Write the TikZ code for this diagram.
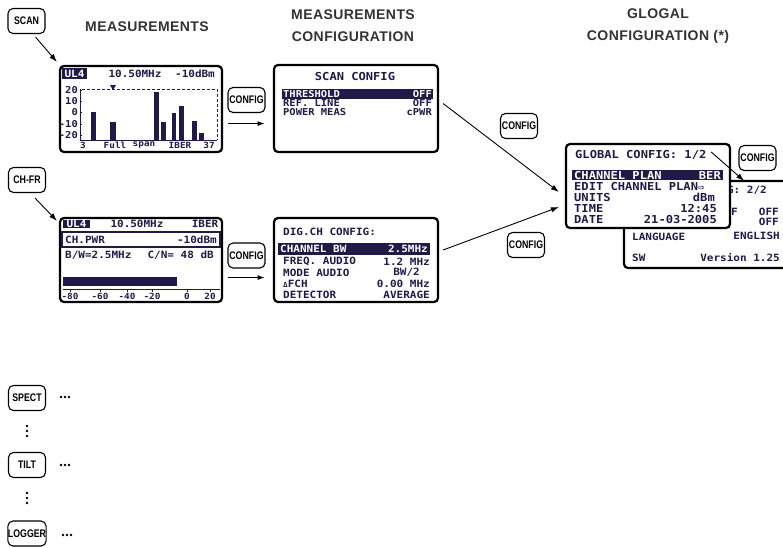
\documentclass[tikz,border=0pt]{standalone}
\usepackage{fontspec}
\setmainfont{Liberation Sans}
\newfontfamily\lcdfont{DejaVu Sans Mono}[FakeStretch=1.1]
\newfontfamily\keyfont{Liberation Sans}[FakeStretch=0.8]
\newfontfamily\symbfont{DejaVu Sans}
\usetikzlibrary{arrows.meta,calc}
\definecolor{lcd}{rgb}{0.13,0.10,0.28}
\definecolor{ink}{rgb}{0.2,0.2,0.2}

\begin{document}
\begin{tikzpicture}[
    x=1pt, y=-1pt,
    btn/.style={draw, rounded corners=5pt, line width=1.1pt, minimum width=37pt, minimum height=25pt, inner sep=0pt, font=\keyfont\bfseries\fontsize{11}{11}\selectfont},
    screen/.style={draw, fill=white, rounded corners=4pt, line width=2.2pt, inner sep=0pt},
    lcdtxt/.style={text=lcd, inner sep=0pt, font=\lcdfont\bfseries\fontsize{10}{10}\selectfont},
    lcdrow/.style={lcdtxt, font=\lcdfont\bfseries\fontsize{9.5}{9.5}\selectfont},
    lcdsm/.style={lcdtxt, font=\lcdfont\bfseries\fontsize{8.5}{9}\selectfont},
    lcdaxis/.style={lcdtxt, font=\lcdfont\bfseries\fontsize{9.5}{9.5}\selectfont},
    lcdbig/.style={lcdtxt, font=\lcdfont\bfseries\fontsize{11}{11}\selectfont},
    invtxt/.style={text=white},
    title/.style={text=ink, align=center, font=\bfseries\fontsize{14}{22}\selectfont\addfontfeature{LetterSpace=3}},
    arr/.style={line width=0.9pt, -{Latex[length=8pt,width=5.5pt]}},
    lcdline/.style={draw=lcd, line width=0.9pt},
    dot/.style={fill=black}
    ]
    \useasboundingbox (0,0) rectangle (783,547);

    % titles
    \node[title] (tmeas) at (147,27) {MEASUREMENTS};
    \node[title] (tconf) at (353,26) {MEASUREMENTS\\CONFIGURATION};
    \node[title] (tglob) at (658,26) {GLOGAL\\CONFIGURATION (*)};

    % keys
    \node[btn] (scan) at (26.5,21) {SCAN};
    \node[btn] (chfr) at (27,180) {CH-FR};
    \node[btn] (spect) at (27,398) {SPECT};
    \node[btn] (tilt) at (27,465) {TILT};
    \node[btn] (logger) at (27,533.5) {LOGGER};
    \node[btn] (cfga) at (246.5,100) {CONFIG};
    \node[btn] (cfgb) at (246.5,255.5) {CONFIG};
    \node[btn] (cfgc) at (519,126) {CONFIG};
    \node[btn] (cfgd) at (526,245) {CONFIG};
    \node[btn] (cfge) at (757.5,158) {CONFIG};

    % screens
    \node[screen, minimum width=162pt, minimum height=86pt] (scra) at (141,109) {};
    \node[screen, minimum width=164pt, minimum height=87pt] (scrb) at (356,108.5) {};
    \node[screen, minimum width=162pt, minimum height=84pt] (scrc) at (141,260) {};
    \node[screen, minimum width=164pt, minimum height=84pt] (scrd) at (356,260) {};

    % scan screen
    \fill[lcd] (62,68) rectangle (87,79);
    \node[lcdtxt, invtxt] (sa1) at (74.5,73.5) {UL4};
    \node[lcdtxt] (sa2) at (135,74) {10.50MHz};
    \node[lcdtxt] (sa3) at (195,74) {-10dBm};
    \foreach \t/\y [count=\i] in {20/90,10/101,0/112,-10/124,-20/135}{
        \node[lcdaxis, anchor=east] (say\i) at (78,\y) {\t};
        \draw[lcdline] (80,\y) -- (82,\y);
    }
    \draw[lcdline] (80,89) -- (80,140) -- (217,140);
    \draw[lcdline, dash pattern=on 3pt off 2pt] (82,89) -- (217,89) -- (217,140);
    \fill[lcd] (110,85) -- (116,85) -- (113,90) -- cycle;
    \foreach \xa/\xb/\yt in {91/96/112,110/116/122,154/159/92,161/166/122,172/176/113,179/184/106,192/197/121,199/204/133}
        \fill[lcd] (\xa,\yt) rectangle (\xb,140);
    \foreach \t/\x [count=\i] in {3/83,Full/115,span/144,IBER/180,37/209}
        \node[lcdsm] (sab\i) at (\x,145) {\t};

    % scan config screen
    \node[lcdbig] (sb1) at (355,76) {SCAN CONFIG};
    \fill[lcd] (282,89) rectangle (433,99);
    \node[lcdrow, invtxt, anchor=west] (sb2) at (283,94) {THRESHOLD};
    \node[lcdrow, invtxt, anchor=east] (sb3) at (432,94) {OFF};
    \node[lcdrow, anchor=west] (sb4) at (283,103) {REF. LINE};
    \node[lcdrow, anchor=east] (sb5) at (432,103) {OFF};
    \node[lcdrow, anchor=west] (sb6) at (283,112) {POWER MEAS};
    \node[lcdrow, anchor=east] (sb7) at (432,112) {cPWR};

    % ch-fr screen
    \fill[lcd] (63,220) rectangle (90,228);
    \node[lcdtxt, invtxt] (sc1) at (76.5,224) {UL4};
    \node[lcdtxt] (sc2) at (137,224) {10.50MHz};
    \node[lcdtxt] (sc3) at (205,224) {IBER};
    \draw[lcdline, line width=1.2pt] (62,232) rectangle (220,247);
    \node[lcdtxt, anchor=west] (sc4) at (65,239.5) {CH.PWR};
    \node[lcdtxt, anchor=east] (sc5) at (217,239.5) {-10dBm};
    \node[lcdtxt, anchor=west] (sc6) at (65,255) {B/W=2.5MHz};
    \node[lcdtxt, anchor=east] (sc7) at (214,255) {C/N= 48 dB};
    \fill[lcd] (63,277) rectangle (177,286);
    \draw[lcdline] (63,289) -- (220,289);
    \foreach \t/\x [count=\i] in {-80/70,-60/100,-40/127,-20/152,0/187,20/210}{
        \node[lcdsm] (scb\i) at (\x,296) {\t};
        \draw[lcdline] (\x,289) -- (\x,292);
    }

    % dig.ch config screen
    \node[lcdtxt, anchor=west] (sd1) at (283,232) {DIG.CH  CONFIG:};
    \fill[lcd] (278,243) rectangle (430,255);
    \node[lcdtxt, invtxt, anchor=west] (sd2) at (280,249) {CHANNEL BW};
    \node[lcdtxt, invtxt, anchor=east] (sd3) at (428,249) {2.5MHz};
    \node[lcdtxt, anchor=west] (sd4) at (283,261) {FREQ. AUDIO};
    \node[lcdtxt, anchor=east] (sd5) at (430,261.5) {1.2 MHz};
    \node[lcdtxt, anchor=west] (sd6) at (283,273) {MODE AUDIO};
    \node[lcdtxt, anchor=east] (sd7) at (420,272.5) {BW/2};
    \node[lcdtxt, anchor=west] (sd8) at (283,284) {{\fontsize{7}{7}\selectfont Δ}FCH};
    \node[lcdtxt, anchor=east] (sd9) at (430,283.5) {0.00 MHz};
    \node[lcdtxt, anchor=west] (sd10) at (283,295) {DETECTOR};
    \node[lcdtxt, anchor=east] (sd11) at (430,295) {AVERAGE};

    % global config, page 2 (behind)
    \begin{scope}
        \clip (0,0) rectangle (783,547);
        \draw[screen] (790,181) -- (624,181) -- (624,268) -- (790,268);
    \end{scope}
    \node[lcdtxt, anchor=east] (sf1) at (767,190) {G: 2/2};
    \node[lcdtxt, anchor=west] (sf2) at (731,212) {F};
    \node[lcdtxt, anchor=east] (sf3) at (779,212) {OFF};
    \node[lcdtxt, anchor=east] (sf4) at (779,222) {OFF};
    \node[lcdtxt, anchor=west] (sf5) at (632,237) {LANGUAGE};
    \node[lcdtxt, anchor=east] (sf6) at (780,236) {ENGLISH};
    \node[lcdtxt, anchor=west] (sf7) at (632,258) {SW};
    \node[lcdtxt, anchor=east] (sf8) at (780,257) {Version 1.25};

    % global config, page 1
    \node[screen, minimum width=164pt, minimum height=84pt] (scre) at (648,186) {};
    \node[lcdbig, anchor=west] (se1) at (575,155) {GLOBAL CONFIG: 1/2};
    \fill[lcd] (572,170) rectangle (723,180);
    \node[lcdbig, invtxt, anchor=west] (se2) at (574,175) {CHANNEL PLAN};
    \node[lcdbig, invtxt, anchor=east] (se3) at (721,175) {BER};
    \node[lcdbig, anchor=west] (se4) at (574,186) {EDIT CHANNEL PLAN{\symbfont\fontsize{8}{8}\selectfont ⇨}};
    \node[lcdbig, anchor=west] (se5) at (574,197) {UNITS};
    \node[lcdbig, anchor=east] (se6) at (715,197) {dBm};
    \node[lcdbig, anchor=west] (se7) at (574,208) {TIME};
    \node[lcdbig, anchor=east] (se8) at (717,208) {12:45};
    \node[lcdbig, anchor=west] (se9) at (574,219) {DATE};
    \node[lcdbig, anchor=east] (se10) at (717,219) {21-03-2005};

    % arrows
    \draw[arr] ($(scan.south)+(9,3)$) -- ($(scra.north west)+(-2,-3)$);
    \draw[arr] ($(chfr.south)+(8,5)$) -- ($(scrc.north west)+(-2,4)$);
    \draw[arr, -{Latex[length=7pt,width=5pt]}] ($(cfga.south west)+(1,10.5)$) -- ($(cfga.south east)+(-1,10.5)$);
    \draw[arr, -{Latex[length=7pt,width=5pt]}] ($(cfgb.south west)+(1,9)$) -- ($(cfgb.south east)+(-1,9)$);
    \draw[arr] ($(scrb.east)+(4,-5)$) -- ($(scre.west)+(-6,6)$);
    \draw[arr] ($(scrd.east)+(4,-10)$) -- ($(scre.west)+(-6,21)$);
    \draw[arr] ($(scre.north east)+(-20,9)$) -- ($(scre.north east)+(13,38)$);

    % more keys
    \foreach \x in {61,65,69} \fill[dot] (\x,397) circle (1.3pt);
    \foreach \x in {61,65,69} \fill[dot] (\x,465) circle (1.3pt);
    \foreach \x in {63,67,71} \fill[dot] (\x,535) circle (1.3pt);
    \foreach \y in {426,431,436} \fill[dot] (27,\y) circle (1.3pt);
    \foreach \y in {493,498,503} \fill[dot] (27,\y) circle (1.3pt);
\end{tikzpicture}
\end{document}
